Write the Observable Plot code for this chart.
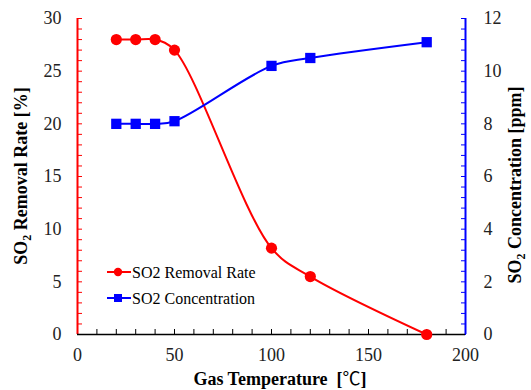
<!DOCTYPE html>
<html>
<head>
<meta charset="utf-8">
<script src="https://cdn.jsdelivr.net/npm/d3@7"></script>
<script src="https://cdn.jsdelivr.net/npm/@observablehq/plot@0.6"></script>
<style>
  html, body { margin: 0; padding: 0; background: #fff; }
  #chart svg { display: block; }
  #chart svg text { font-family: "Liberation Serif", "Times New Roman", serif; }
</style>
</head>
<body>
<div id="chart"></div>
<script>
// Gas temperature (°C) for each measurement
const temperature = [20, 30, 40, 50, 100, 120, 180];
// SO2 removal rate (%)
const removalRate = [28, 28, 28, 27, 8.2, 5.5, 0];
// SO2 concentration (ppm), plotted against the right-hand axis
const concentration = [8, 8, 8, 8.1, 10.2, 10.5, 11.1];

// Left axis 0–30 %, right axis 0–12 ppm
const leftTicks = [0, 5, 10, 15, 20, 25, 30];
const rightTicks = [0, 2, 4, 6, 8, 10, 12];
const xTicks = [0, 50, 100, 150, 200];
const ratio = 30 / 12;

const rateData = temperature.map((t, i) => ({t, v: removalRate[i]}));
const concData = temperature.map((t, i) => ({t, v: concentration[i] * ratio}));

const RED = "#ff0000", BLUE = "#0000ff";
const SERIF = "Liberation Serif";
const labelOpts = {tickSize: 0, label: null, fill: "#222", fontSize: 18, fontFamily: SERIF, fontVariant: "normal"};

const chart = Plot.plot({
  width: 531,
  height: 390,
  marginLeft: 77,
  marginRight: 66,
  marginTop: 18,
  marginBottom: 56,
  style: {fontFamily: SERIF, fontSize: "17px", color: "#222"},
  x: {domain: [0, 200]},
  y: {domain: [0, 30]},
  marks: [
    // minor inward ticks
    Plot.axisY(d3.range(0, 31, 1), {anchor: "left", tickSize: -5, text: null, stroke: RED, label: null}),
    Plot.axisY(d3.range(0, 31, 1), {anchor: "right", tickSize: -5, text: null, stroke: BLUE, label: null}),
    Plot.axisX(d3.range(0, 201, 10), {anchor: "bottom", tickSize: -5, text: null, stroke: "#000", label: null}),
    // labelled ticks; the right axis shows ppm by rescaling the shared y scale
    Plot.axisY(leftTicks, {...labelOpts, anchor: "left", tickPadding: 16}),
    Plot.axisY(rightTicks.map(d => d * ratio), {...labelOpts, anchor: "right", tickPadding: 18,
      tickFormat: d => String(Math.round(d / ratio)), textAnchor: "start"}),
    Plot.axisX(xTicks, {...labelOpts, anchor: "bottom", tickPadding: 14}),
    // axis lines
    Plot.ruleX([0], {stroke: RED, strokeWidth: 2}),
    Plot.ruleX([200], {stroke: BLUE, strokeWidth: 2}),
    Plot.ruleY([0], {stroke: "#000", strokeWidth: 1.5}),
    // series
    Plot.line(rateData, {x: "t", y: "v", stroke: RED, strokeWidth: 2, curve: "catmull-rom"}),
    Plot.line(concData, {x: "t", y: "v", stroke: BLUE, strokeWidth: 2, curve: "catmull-rom"}),
    Plot.dot(rateData, {x: "t", y: "v", r: 5.6, fill: RED, stroke: null}),
    Plot.dot(concData, {x: "t", y: "v", r: 5.8, symbol: "square", fill: BLUE, stroke: null})
  ]
});

document.getElementById("chart").appendChild(chart);

// axis titles with subscripts and an in-plot legend
const svg = d3.select(chart);
const title = (x, y, rotate, parts) => {
  const t = svg.append("text")
    .attr("transform", `translate(${x},${y}) rotate(${rotate})`)
    .attr("text-anchor", "middle")
    .attr("font-weight", "bold")
    .attr("font-size", 18)
    .attr("fill", "#000");
  parts.forEach(([s, kind]) => {
    const sp = t.append("tspan").text(s);
    if (kind === "sub") sp.attr("font-size", 12).attr("dy", 4);
    else if (kind === "up") sp.attr("dy", -4);
    else if (kind === "cjk") sp.attr("style", "font-family: 'Noto Sans CJK JP', sans-serif").attr("font-weight", "normal");
  });
};
title(27, 176, -90, [["SO"], ["2", "sub"], [" Removal Rate [%]", "up"]]);
title(521, 185, -90, [["SO"], ["2", "sub"], [" Concentration [ppm]", "up"]]);
title(280, 385, 0, [["Gas Temperature  ["], ["℃", "cjk"], ["]"]]);

const legend = [
  {label: "SO2 Removal Rate", color: RED, shape: "circle", y: 272},
  {label: "SO2 Concentration", color: BLUE, shape: "square", y: 298}
];
legend.forEach(d => {
  const g = svg.append("g");
  g.append("line").attr("x1", 107).attr("x2", 131).attr("y1", d.y).attr("y2", d.y)
    .attr("stroke", d.color).attr("stroke-width", 2);
  if (d.shape === "circle") g.append("circle").attr("cx", 118).attr("cy", d.y).attr("r", 4.2).attr("fill", d.color);
  else g.append("rect").attr("x", 114).attr("y", d.y - 4).attr("width", 8).attr("height", 8).attr("fill", d.color);
  g.append("text").attr("x", 132).attr("y", d.y).attr("dy", "0.35em")
    .attr("text-anchor", "start").attr("font-size", 16).attr("fill", "#000")
    .text(d.label);
});
</script>
</body>
</html>
